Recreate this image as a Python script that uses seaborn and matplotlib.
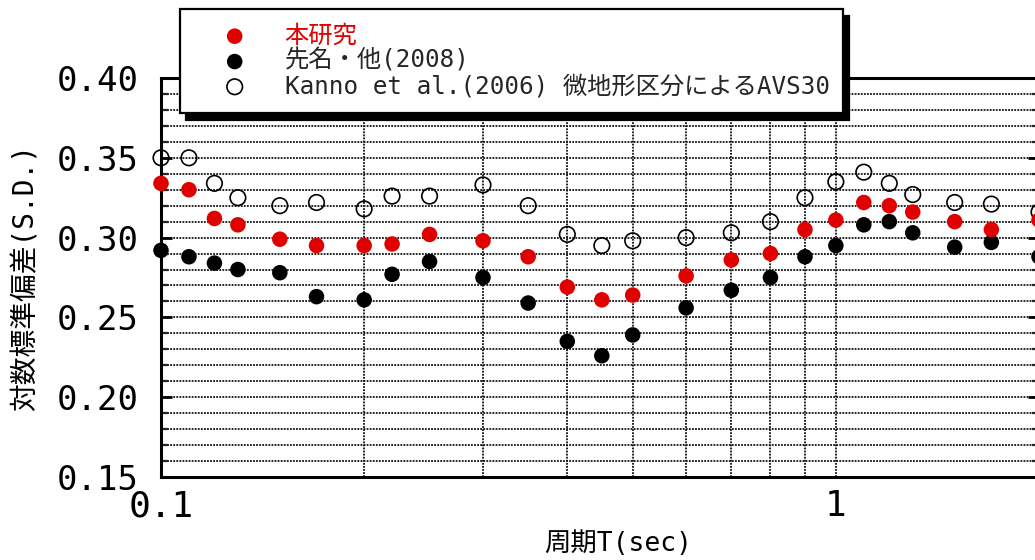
import numpy as np
import pandas as pd
import matplotlib
matplotlib.use("Agg")
import matplotlib.pyplot as plt
from matplotlib.ticker import FixedLocator, MultipleLocator, FuncFormatter, NullFormatter
import seaborn as sns

# 周期 (sec)
periods = [0.1, 0.11, 0.12, 0.13, 0.15, 0.17, 0.2, 0.22, 0.25, 0.3, 0.35, 0.4,
           0.45, 0.5, 0.6, 0.7, 0.8, 0.9, 1.0, 1.1, 1.2, 1.3, 1.5, 1.7, 2.0]
# 対数標準偏差
sd_this_study = [0.334, 0.330, 0.312, 0.308, 0.299, 0.295, 0.295, 0.296, 0.302, 0.298,
                 0.288, 0.269, 0.261, 0.264, 0.276, 0.286, 0.290, 0.305, 0.311, 0.322,
                 0.320, 0.316, 0.310, 0.305, 0.311]
sd_sakina = [0.292, 0.288, 0.284, 0.280, 0.278, 0.263, 0.261, 0.277, 0.285, 0.275,
             0.259, 0.235, 0.226, 0.239, 0.256, 0.267, 0.275, 0.288, 0.295, 0.308,
             0.310, 0.303, 0.294, 0.297, 0.288]
sd_kanno = [0.350, 0.350, 0.334, 0.325, 0.320, 0.322, 0.318, 0.326, 0.326, 0.333,
            0.320, 0.302, 0.295, 0.298, 0.300, 0.303, 0.310, 0.325, 0.335, 0.341,
            0.334, 0.327, 0.322, 0.321, 0.316]

series_labels = ["本研究", "先名・他(2008)", "Kanno et al.(2006) 微地形区分によるAVS30"]
x_major_ticks = [0.1, 1.0]
x_minor_ticks = [0.2, 0.3, 0.4, 0.5, 0.6, 0.7, 0.8, 0.9]

sns.set_theme(style="white")
plt.rcParams["font.family"] = ["DejaVu Sans Mono", "Noto Sans CJK JP"]
plt.rcParams["axes.unicode_minus"] = False

RED = "#e00000"

fig = plt.figure(figsize=(10.35, 5.6), dpi=100)
ax = fig.add_axes([161 / 1035, 83 / 560, 878 / 1035, 399 / 560])

df = pd.DataFrame({"T": periods, "a": sd_this_study, "b": sd_sakina, "c": sd_kanno})

ms = 125
sns.scatterplot(data=df, x="T", y="c", ax=ax, marker="o", s=ms,
                facecolor="none", edgecolor="black", linewidth=1.2,
                label=series_labels[2], zorder=3, clip_on=False)
sns.scatterplot(data=df, x="T", y="b", ax=ax, marker="o", s=ms,
                color="black", edgecolor="none", linewidth=0,
                label=series_labels[1], zorder=4, clip_on=False)
sns.scatterplot(data=df, x="T", y="a", ax=ax, marker="o", s=ms,
                color=RED, edgecolor="none", linewidth=0,
                label=series_labels[0], zorder=5, clip_on=False)

ax.set_xscale("log")
ax.set_xlim(0.1, 2.0)
ax.set_ylim(0.15, 0.40)

ax.xaxis.set_major_locator(FixedLocator(x_major_ticks))
ax.xaxis.set_minor_locator(FixedLocator(x_minor_ticks))
ax.xaxis.set_major_formatter(FuncFormatter(lambda v, p: "0.1" if v < 0.5 else "1"))
ax.xaxis.set_minor_formatter(NullFormatter())
ax.yaxis.set_major_locator(MultipleLocator(0.05))
ax.yaxis.set_minor_locator(MultipleLocator(0.01))
ax.yaxis.set_major_formatter(FuncFormatter(lambda v, p: f"{v:.2f}"))

grid_kw = dict(color="#111111", linestyle=(0, (1.0, 0.7)), linewidth=1.3)
ax.grid(True, which="both", axis="both", **grid_kw)

for s in ax.spines.values():
    s.set_linewidth(2.2)
    s.set_color("black")

ax.tick_params(axis="x", which="major", direction="in", length=11, width=1.6,
               labelsize=26, pad=9, colors="black")
ax.tick_params(axis="x", which="minor", direction="in", length=6.5, width=1.6)
ax.tick_params(axis="y", which="major", direction="in", length=8, width=2,
               labelsize=24.5, pad=16, right=True, left=True, colors="black")
ax.tick_params(axis="y", which="minor", direction="in", length=5, width=1.6,
               right=True, left=True)

ax.set_xlabel("周期T(sec)", fontsize=19, color="black")
ax.xaxis.set_label_coords((618 - 161) / 878, -0.136)
ax.set_ylabel("対数標準偏差(S.D.)", fontsize=20, color="black")
ax.yaxis.set_label_coords(-0.138, 0.5)

handles, labels = ax.get_legend_handles_labels()
order = [labels.index(l) for l in series_labels]
leg = ax.legend([handles[i] for i in order], [labels[i] for i in order],
                loc="upper left",
                bbox_to_anchor=(180 / 1035, 1 - 9 / 560, (843 - 180) / 1035, 0),
                bbox_transform=fig.transFigure, mode="expand",
                fontsize=17.5, frameon=True, fancybox=False,
                shadow={"ox": 4, "oy": -5, "color": "black", "alpha": 1},
                borderpad=0.6, labelspacing=0.05, handlelength=3.3,
                handletextpad=0.4, borderaxespad=0, markerscale=1.0)
leg.get_frame().set_edgecolor("black")
leg.get_frame().set_linewidth(1.6)
leg.get_frame().set_facecolor("white")
leg.set_zorder(10)
leg.get_texts()[0].set_color(RED)

fig.savefig("out.png", dpi=100)
